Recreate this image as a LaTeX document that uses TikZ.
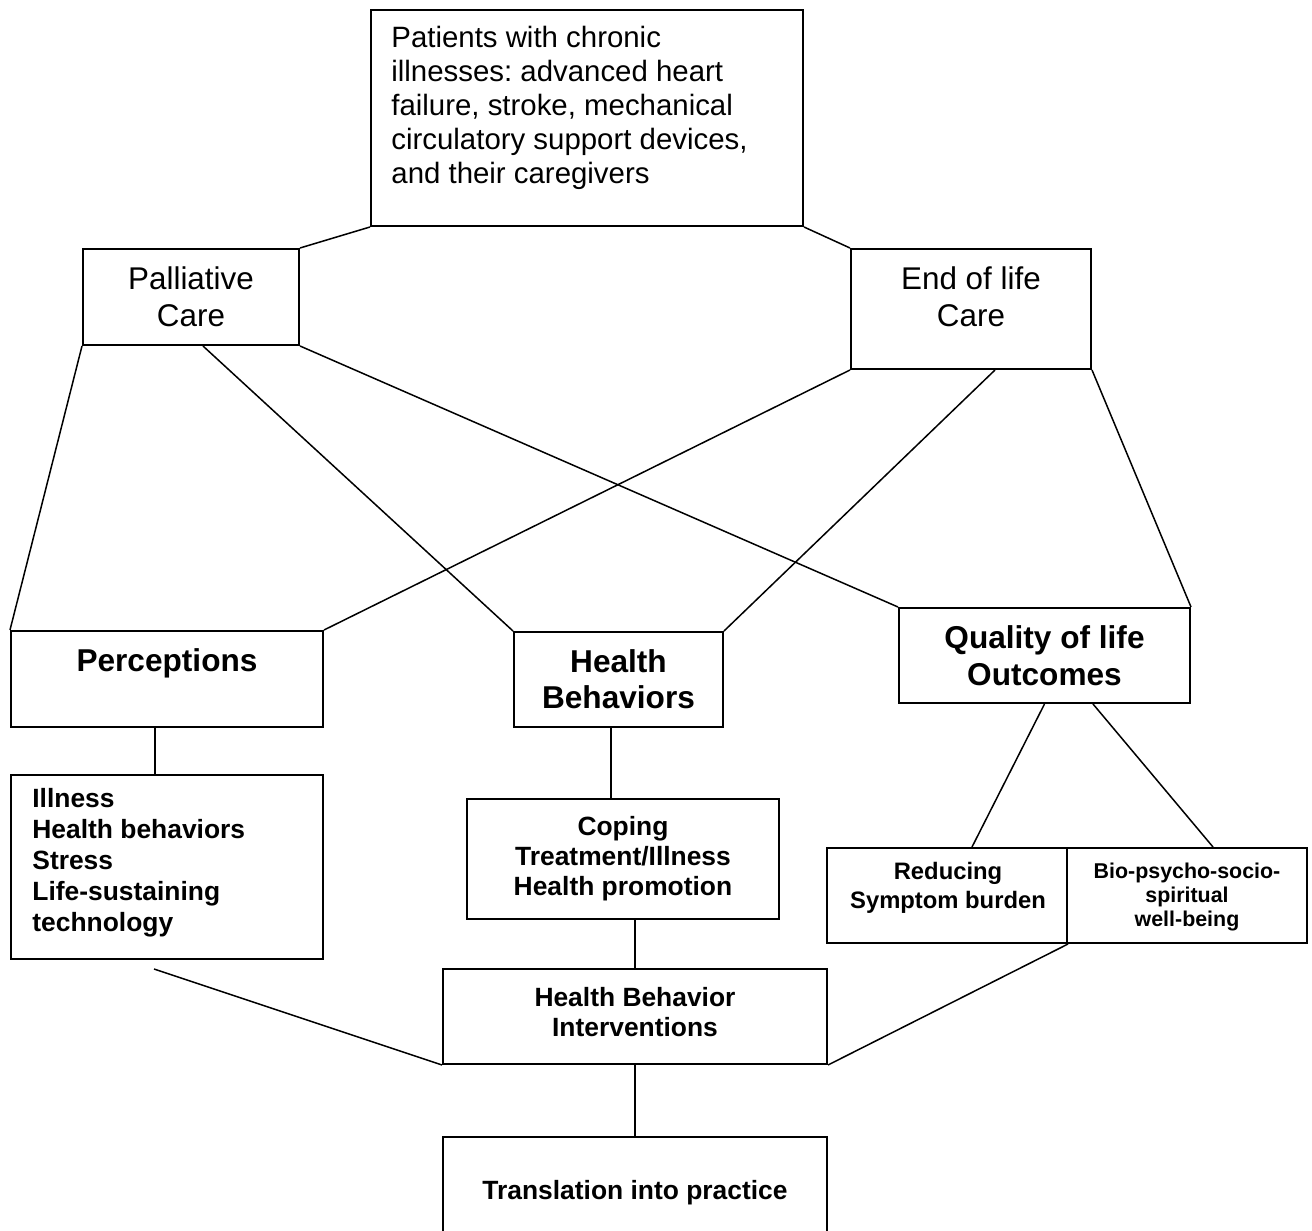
\documentclass[tikz,border=0pt]{standalone}
\usepackage{fontspec}
\setmainfont{Liberation Sans}
\usetikzlibrary{positioning, calc}
\frenchspacing

\begin{document}
\begin{tikzpicture}[
					x=0.5pt, y=-0.5pt,
					box/.style={draw, line width=1pt, inner sep=0pt, align=center},
					link/.style={line width=0.75pt},
					plain/.style={inner sep=0pt, align=center}
					]
					\clip (0,0) rectangle (1312,1231);
					% top level
					\node[box, minimum width=216pt, minimum height=108pt] (Pat) at (587,118) {};
					\node[plain, anchor=north west, align=left, font=\fontsize{14.7}{17}\selectfont] (PatT) at (391,26)
					{Patients with chronic\\illnesses: advanced heart\\failure, stroke, mechanical\\circulatory support devices,\\and their caregivers};
					\node[box, minimum width=108pt, minimum height=48pt, font=\fontsize{15.7}{18.5}\selectfont] (PC) at (191,297) {Palliative\\Care};
					\node[box, minimum width=120pt, minimum height=60pt] (EOL) at (971,309) {};
					\node[plain, font=\fontsize{15.7}{18.5}\selectfont] (EOLT) at (971,296.5) {End of life\\Care};
					% middle level
					\node[box, minimum width=156pt, minimum height=48pt] (Perc) at (167,679) {};
					\node[plain, font=\fontsize{15.8}{18}\selectfont\bfseries] (PercT) at (167,663) {Perceptions};
					\node[box, minimum width=104.5pt, minimum height=47.5pt, font=\fontsize{15.8}{18}\selectfont\bfseries] (HB) at (618.5,679.5) {Health\\Behaviors};
					\node[box, minimum width=145.5pt, minimum height=47.5pt, font=\fontsize{15.8}{18.5}\selectfont\bfseries] (QoL) at (1044.5,655.5) {Quality of life\\Outcomes};
					% lower level
					\node[box, minimum width=156pt, minimum height=92pt] (Ill) at (167,867) {};
					\node[plain, anchor=west, align=left, font=\fontsize{13.2}{15.5}\selectfont\bfseries] (IllT) at (32,863)
					{Illness\\Health behaviors\\Stress\\Life-sustaining\\technology};
					\node[box, minimum width=156pt, minimum height=60pt, font=\fontsize{13.2}{15}\selectfont\bfseries] (Cop) at (623,859) {Coping\\Treatment/Illness\\Health promotion};
					\node[box, minimum width=120pt, minimum height=47.5pt] (Red) at (947,895.5) {};
					\node[plain, font=\fontsize{11.9}{14.5}\selectfont\bfseries] (RedT) at (948,888) {Reducing\\Symptom burden};
					\node[box, minimum width=120pt, minimum height=47.5pt] (Bio) at (1187,895.5) {};
					\node[plain, font=\fontsize{10.7}{12}\selectfont\bfseries] (BioT) at (1187,897) {Bio-psycho-socio-\\spiritual\\well-being};
					\node[box, minimum width=192pt, minimum height=47.5pt] (HBI) at (635,1016.5) {};
					\node[plain, font=\fontsize{13.2}{15}\selectfont\bfseries] (HBIT) at (635,1012) {Health Behavior\\Interventions};
					\node[box, minimum width=192pt, minimum height=56pt, font=\fontsize{13.2}{15}\selectfont\bfseries] (Tr) at (635,1193) {Translation into practice};
					\coordinate (IllEnd) at (154,969);
					% connectors
					\draw[link] (Pat.south west) -- (PC.north east);
					\draw[link] (Pat.south east) -- (EOL.north west);
					\draw[link] (PC.south west) -- (Perc.north west);
					\draw[link] ([xshift=6pt]PC.south) -- (HB.north west);
					\draw[link] (PC.south east) -- (QoL.north west);
					\draw[link] (EOL.south west) -- (Perc.north east);
					\draw[link] ([xshift=12pt]EOL.south) -- (HB.north east);
					\draw[link] (EOL.south east) -- (QoL.north east);
					\draw[link] ([xshift=-6pt]Perc.south) -- ([xshift=-6pt]Ill.north);
					\draw[link] ([xshift=-3.75pt]HB.south) -- ([xshift=-6pt]Cop.north);
					\draw[link] (QoL.south) -- ([xshift=12.5pt]Red.north);
					\draw[link] ([xshift=24.25pt]QoL.south) -- ([xshift=13pt]Bio.north);
					\draw[link] (IllEnd) -- (HBI.south west);
					\draw[link] ([xshift=6pt]Cop.south) -- (HBI.north);
					\draw[link] (Red.south east) -- (HBI.south east);
					\draw[link] (HBI.south) -- (Tr.north);
				\end{tikzpicture}
\end{document}
